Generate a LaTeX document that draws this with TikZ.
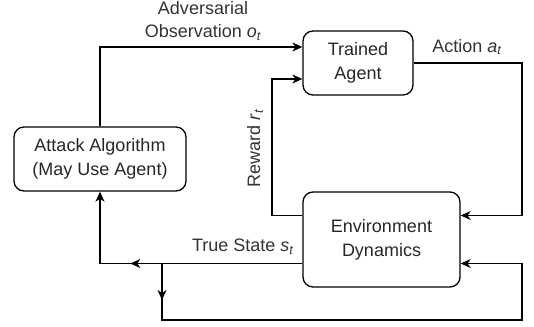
\documentclass[tikz,border=0pt]{standalone}
\usepackage{fontspec}
\setmainfont{Liberation Sans}
\usetikzlibrary{arrows.meta,calc,decorations.markings}
\tikzstyle{block}=[draw,line width=1.3pt,rounded corners=10pt,align=center,inner sep=0pt,font=\fontsize{18}{24}\selectfont,text=black!85]
\tikzstyle{lbl}=[align=center,inner sep=0pt,font=\fontsize{18}{23}\selectfont,text=black!80]
\tikzstyle{line}=[line width=1.3pt]
\tikzstyle{arr}=[line width=1.3pt,-{Stealth[length=10pt,width=9pt,inset=3pt]}]
\tikzset{markat/.style={decoration={markings, mark=at position #1 with {\arrow{Stealth[length=10pt,width=9pt,inset=3pt]}}}, postaction={decorate}}}
\newcommand{\sym}[1]{\textit{#1}\textsubscript{\textit{t}}}

\begin{document}
\begin{tikzpicture}[x=1pt,y=-1pt]
\useasboundingbox (0,0) rectangle (534,326);
% boxes
\node[block,minimum width=110pt,minimum height=64pt] (agent) at (358,63) {Trained\\Agent};
\node[block,minimum width=172pt,minimum height=64pt] (attack) at (100,159) {Attack Algorithm\\(May Use Agent)};
\node[block,minimum width=157pt,minimum height=95pt] (env) at (381.5,239.5) {Environment\\Dynamics};
\coordinate (split) at (162,264);
% connectors
\draw[arr] (attack.north) |- ($(agent.west)+(0,-16)$);
\draw[arr] ($(env.west)+(0,-24)$) -| (272,79) -- ($(agent.west)+(0,16)$);
\draw[arr] (agent.east) -- (522,63) |- ($(env.east)+(0,-24)$);
\draw[arr,markat=172pt] ($(env.west)+(0,24)$) -| (attack.south);
\draw[arr,markat=36pt] (split) |- (522,320) |- ($(env.east)+(0,24)$);
% labels
\node[lbl] (obslbl) at (203,21) {Adversarial\\Observation \sym{o}};
\node[lbl] (actlbl) at (467,47) {Action \sym{a}};
\node[lbl,rotate=90] (rewlbl) at (255,148) {Reward \sym{r}};
\node[lbl] (statelbl) at (243,247) {True State \sym{s}};
\end{tikzpicture}
\end{document}
